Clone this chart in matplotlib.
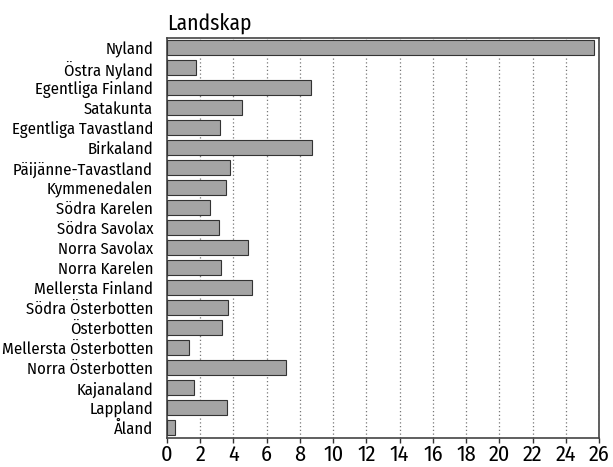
import matplotlib
matplotlib.use('Agg')
import matplotlib.pyplot as plt
from matplotlib import font_manager

# Data
regions = ['Nyland', 'Östra Nyland', 'Egentliga Finland', 'Satakunta',
           'Egentliga Tavastland', 'Birkaland', 'Päijänne-Tavastland',
           'Kymmenedalen', 'Södra Karelen', 'Södra Savolax', 'Norra Savolax',
           'Norra Karelen', 'Mellersta Finland', 'Södra Österbotten',
           'Österbotten', 'Mellersta Österbotten', 'Norra Österbotten',
           'Kajanaland', 'Lappland', 'Åland']
values = [25.7, 1.75, 8.65, 4.5, 3.2, 8.75, 3.8, 3.55, 2.6, 3.1, 4.85,
          3.25, 5.1, 3.7, 3.3, 1.35, 7.15, 1.65, 3.6, 0.5]
xticks = list(range(0, 27, 2))

# pick a condensed sans, the reference uses a Frutiger Condensed look
names = {f.name for f in font_manager.fontManager.ttflist}
fam = 'DejaVu Sans'
for cand in ['Fira Sans Condensed', 'PT Sans Narrow', 'Asap Condensed',
             'Roboto Condensed', 'Archivo Narrow', 'Barlow Condensed']:
    if cand in names:
        fam = cand
        break
plt.rcParams['font.family'] = [fam, 'DejaVu Sans']

fig = plt.figure(figsize=(6.13, 4.67), dpi=100)
ax = fig.add_axes([167 / 613, 1 - 438 / 467, (599 - 167) / 613, (438 - 38) / 467])

pos = list(range(len(regions)))
ax.barh(pos, values, height=0.75, color='#a4a4a4', edgecolor='#333333',
        linewidth=0.8, zorder=3)
ax.set_ylim(len(regions) - 0.5, -0.5)
ax.set_xlim(0, 26)
ax.set_yticks(pos)
ax.set_yticklabels(regions, fontsize=12)
ax.set_xticks(xticks)
ax.set_xticklabels([str(t) for t in xticks], fontsize=16)
ax.tick_params(axis='y', length=0, pad=10)
ax.tick_params(axis='x', length=3.5, width=1, color='#333333', pad=1)
ax.grid(axis='x', linestyle=(0, (1, 2)), color='#777777', linewidth=0.9, zorder=0)
for s in ax.spines.values():
    s.set_color('#444444')
    s.set_linewidth(1.2)

fig.text(167 / 613, 1 - 31 / 467, 'Landskap', fontsize=15.5, ha='left', va='baseline')

fig.savefig('out.png', dpi=100)
